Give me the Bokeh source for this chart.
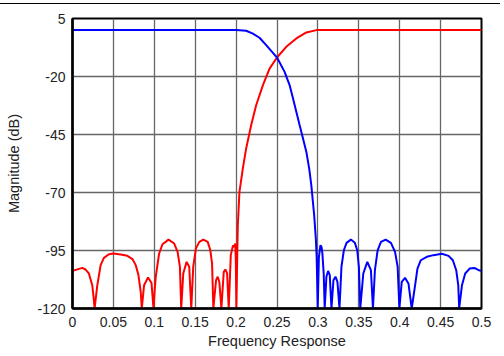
from bokeh.plotting import figure
from bokeh.models import FixedTicker, Label, Range1d
from bokeh.embed import file_html
from bokeh.resources import INLINE

# Red curve (high-pass): frequency and magnitude in dB
red_freq = [0.0, 0.0119, 0.016, 0.020, 0.0242, 0.026, 0.027, 0.0303, 0.0344, 0.0384,
            0.0445, 0.050, 0.0589, 0.0671, 0.0733, 0.0773, 0.0806, 0.0834, 0.0847,
            0.0875, 0.0924, 0.0966, 0.099, 0.1005, 0.1018, 0.1059, 0.110, 0.1174,
            0.1243, 0.1285, 0.1313, 0.1329, 0.1354, 0.1395, 0.1427, 0.1452, 0.1476,
            0.1509, 0.155, 0.1599, 0.1653, 0.1685, 0.1706, 0.1722, 0.1755, 0.1775,
            0.1795, 0.182, 0.1849, 0.1869, 0.189, 0.191, 0.1935, 0.1962, 0.1978,
            0.199, 0.1997, 0.2003, 0.2015, 0.2021, 0.2041, 0.2082, 0.2123, 0.2184,
            0.2245, 0.2328, 0.2409, 0.25, 0.2613, 0.2736, 0.2859, 0.2982, 0.5]
red_db = [-103.8, -102.5, -103.2, -104.9, -110, -116, -120, -110, -101.3, -98.2,
          -96.6, -96.3, -96.7, -97.3, -98.7, -101.3, -105.6, -112.8, -120,
          -110, -106.6, -109, -120, -112, -106.3, -96.3, -92.3, -90.3,
          -92, -95.6, -102, -120, -104.9, -99.9, -102, -120, -102,
          -94.1, -91.3, -90.3, -91.3, -94.9, -100.6, -120, -107.8, -106.3,
          -108.5, -120, -104.2, -103.2, -104.9, -120, -97, -92.8, -93.5,
          -92, -100, -120, -95, -84.1, -69.7, -59.7, -51, -41,
          -32.4, -23.7, -16.6, -11.8, -7.2, -3.6, -1.0, 0.0, 0.0]

# Blue curve (low-pass)
blue_freq = [0.0, 0.20, 0.2123, 0.2205, 0.2286, 0.2368, 0.245, 0.25, 0.2593, 0.2654,
             0.2696, 0.2736, 0.2777, 0.2818, 0.2859, 0.2895, 0.292, 0.2955, 0.2975,
             0.2985, 0.2998, 0.3012, 0.3031, 0.3045, 0.3055, 0.3071, 0.3083, 0.3104,
             0.3125, 0.3145, 0.3166, 0.319, 0.3215, 0.3239, 0.3264, 0.3288, 0.3317,
             0.335, 0.3403, 0.3452, 0.3481, 0.3501, 0.3518, 0.3555, 0.3604, 0.3648,
             0.3673, 0.3697, 0.373, 0.3771, 0.3828, 0.3893, 0.3943, 0.3975, 0.3996,
             0.4025, 0.4065, 0.4107, 0.4147, 0.4188, 0.4217, 0.4258, 0.4331, 0.4413,
             0.4515, 0.4597, 0.465, 0.4691, 0.4716, 0.4727, 0.4761, 0.4801, 0.4855,
             0.4912, 0.4966, 0.5]
blue_db = [0.0, 0.0, -0.3, -1.5, -3.3, -6.5, -9.8, -11.8, -18, -23.7,
           -29.5, -35.2, -41, -46.7, -52.5, -60, -67, -80, -90,
           -98, -120, -98, -92.7, -93.5, -96.3, -104.9, -120, -106.3,
           -103.8, -105.6, -120, -107.8, -106.3, -108.5, -120, -102, -94.9,
           -91.7, -90.3, -91.7, -94.9, -102, -120, -104.9, -99.9, -103.5,
           -120, -103.5, -94.9, -91.3, -90.3, -91.7, -95.6, -102, -120,
           -108.5, -106.8, -109.2, -120, -110, -102.8, -99.2, -97.7, -97,
           -96.4, -97.3, -99.2, -103.5, -110, -120, -110, -104.9, -102.8,
           -102.5, -103.5, -103.7]

x_ticks = [0, 0.05, 0.1, 0.15, 0.2, 0.25, 0.3, 0.35, 0.4, 0.45, 0.5]
x_tick_labels = ["0", "0.05", "0.1", "0.15", "0.2", "0.25", "0.3", "0.35", "0.4", "0.45", "0.5"]
y_ticks = [5, -20, -45, -70, -95, -120]
y_tick_labels = ["5", "-20", "-45", "-70", "-95", "-120"]

FONT = "Liberation Sans"

p = figure(width=500, height=349, output_backend="svg", toolbar_location=None,
           x_range=Range1d(0, 0.5), y_range=Range1d(-120, 5),
           min_border_left=72, min_border_right=19, min_border_top=14, min_border_bottom=45)
p.styles = {"border-top": "1.5px solid #000000", "margin-top": "3px"}

p.line(red_freq, red_db, line_color="#ff0000", line_width=2)
p.line(blue_freq, blue_db, line_color="#0000ff", line_width=2)

p.outline_line_color = "black"
p.outline_line_width = 2
p.background_fill_color = "white"
p.border_fill_color = "white"

p.xgrid.ticker = FixedTicker(ticks=x_ticks)
p.ygrid.ticker = FixedTicker(ticks=y_ticks)
p.grid.grid_line_color = "#666666"
p.grid.grid_line_width = 1.3

p.xaxis.ticker = FixedTicker(ticks=x_ticks)
p.xaxis.major_label_overrides = {t: l for t, l in zip(x_ticks, x_tick_labels)}
p.yaxis.ticker = FixedTicker(ticks=y_ticks)
p.yaxis.major_label_overrides = {t: l for t, l in zip(y_ticks, y_tick_labels)}

for ax in (p.xaxis[0], p.yaxis[0]):
    ax.axis_line_color = "black"
    ax.axis_line_width = 2.5
    ax.major_tick_line_color = None
    ax.minor_tick_line_color = None
    ax.major_tick_out = 0
    ax.major_tick_in = 0
    ax.major_label_text_font = FONT
    ax.major_label_text_font_size = "14px"
    ax.major_label_text_color = "#222222"
    ax.axis_label_text_font = FONT
    ax.axis_label_text_font_size = "14.5px"
    ax.axis_label_text_font_style = "normal"
    ax.axis_label_text_color = "#222222"

p.xaxis.axis_label = "Frequency Response"
p.yaxis.axis_label = "Magnitude (dB)"
p.xaxis.major_label_standoff = 8
p.yaxis.major_label_standoff = 7
p.xaxis.axis_label_standoff = 3
p.yaxis.axis_label_standoff = 12

p.add_layout(Label(x=0.5195, y=-135, text="D013", text_font=FONT, text_font_size="10px",
                   text_color="#aaaaaa", text_align="right", text_baseline="middle"))

open("out.html", "w").write(file_html(p, INLINE))
